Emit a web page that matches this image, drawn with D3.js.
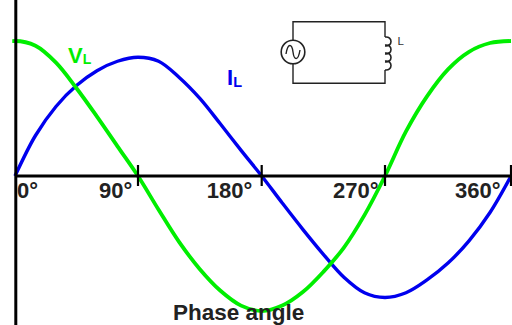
<!DOCTYPE html>
<html><head><meta charset="utf-8">
<script src="https://cdn.jsdelivr.net/npm/d3@7"></script>
<style>html,body{margin:0;padding:0;background:#fff}svg{display:block}text{font-family:"Liberation Sans",Arial,sans-serif;font-weight:bold}</style>
</head><body><svg id="c" width="512" height="325"></svg>
<script>
const voltageDegrees = [-15,0,15,30,45,60,75,90,105,120,135,150,165,180,195,210,225,240,255,270,285,300,315,330,345,360];
const voltage = [0.965,1,0.965,0.84,0.65,0.44,0.22,0,-0.25,-0.49,-0.69,-0.85,-0.96,-1,-0.96,-0.86,-0.71,-0.53,-0.29,0,0.33,0.59,0.79,0.92,0.985,1];
const currentDegrees = [0,15,30,45,60,75,90,105,120,135,150,165,180,195,210,225,240,255,270,285,300,315,330,345,360];
const current = [0,0.3,0.515,0.67,0.78,0.85,0.88,0.85,0.73,0.575,0.385,0.19,0,-0.2,-0.395,-0.58,-0.75,-0.865,-0.9,-0.865,-0.77,-0.645,-0.48,-0.27,0];
const tickDegrees = [90,180,270,360];
const labelDegrees = [0,90,180,270,360];
const tickLabels = ["0°","90°","180°","270°","360°"];
const labelShift = [2,-39,-55,-52,-56];

const svg = d3.select("#c");
const x = d3.scaleLinear().domain([0,90,180,270,360]).range([15,138,261.7,385,511]);
const y = d3.scaleLinear().domain([-1,1]).range([311,41]);
const line = (deg,vals) => d3.line().x((d,i)=>x(deg[i])).y(d=>y(d)).curve(d3.curveCatmullRom)(vals);

svg.append("clipPath").attr("id","plot").append("rect").attr("x",x(-2)).attr("y",0).attr("width",512).attr("height",325);
svg.append("path").attr("d",line(currentDegrees,current)).attr("fill","none").attr("stroke","#0000ee").attr("stroke-width",3.4);
svg.append("path").attr("d",line(voltageDegrees,voltage)).attr("clip-path","url(#plot)").attr("fill","none").attr("stroke","#00ee00").attr("stroke-width",3.8);

// axes
svg.append("line").attr("x1",15.8).attr("x2",15.8).attr("y1",0).attr("y2",325).attr("stroke","#000").attr("stroke-width",3);
svg.append("line").attr("x1",15).attr("x2",512).attr("y1",y(0)).attr("y2",y(0)).attr("stroke","#000").attr("stroke-width",3);
svg.selectAll(".tick").data(tickDegrees).join("line").attr("class","tick")
  .attr("x1",d=>x(d)).attr("x2",d=>x(d)).attr("y1",y(0)-11).attr("y2",y(0)+10)
  .attr("stroke","#000").attr("stroke-width",2.2);
svg.selectAll(".lbl").data(labelDegrees).join("text").attr("class","lbl")
  .attr("x",(d,i)=>x(d)+labelShift[i]).attr("y",y(0)+22)
  .attr("font-size",22).attr("fill","#222").text((d,i)=>tickLabels[i]);

svg.append("text").attr("x",173).attr("y",320).attr("font-size",22.5).attr("fill","#222").text("Phase angle");

// series labels
const vl = svg.append("text").attr("x",68).attr("y",63).attr("font-size",22).attr("fill","#00ee00");
vl.append("tspan").text("V"); vl.append("tspan").attr("font-size",14).attr("dy",1).text("L");
const il = svg.append("text").attr("x",227).attr("y",85).attr("font-size",22).attr("fill","#0000ee");
il.append("tspan").text("I"); il.append("tspan").attr("font-size",14.5).attr("dy",2).text("L");

// circuit inset
const g = svg.append("g").attr("fill","none").attr("stroke","#222").attr("stroke-width",1.4);
g.append("path").attr("d","M293 40V21.7H385V37M385 70V83.3H293V64");
g.append("circle").attr("cx",293).attr("cy",52).attr("r",11.8).attr("stroke-width",1.6);
g.append("path").attr("d","M286 54C288 42 292 44 293 52C294 60 298 62 300 50");
const coil = d3.path();
[37,45,53,61].forEach(s=>{ coil.moveTo(385,s); coil.bezierCurveTo(393,s-1,393,s+10,385,s+9); });
g.append("path").attr("d",coil.toString()).attr("stroke-width",1.6);
svg.append("text").attr("x",397.5).attr("y",45).attr("font-size",11.5).style("font-weight","normal").attr("fill","#333").text("L");
</script></body></html>
